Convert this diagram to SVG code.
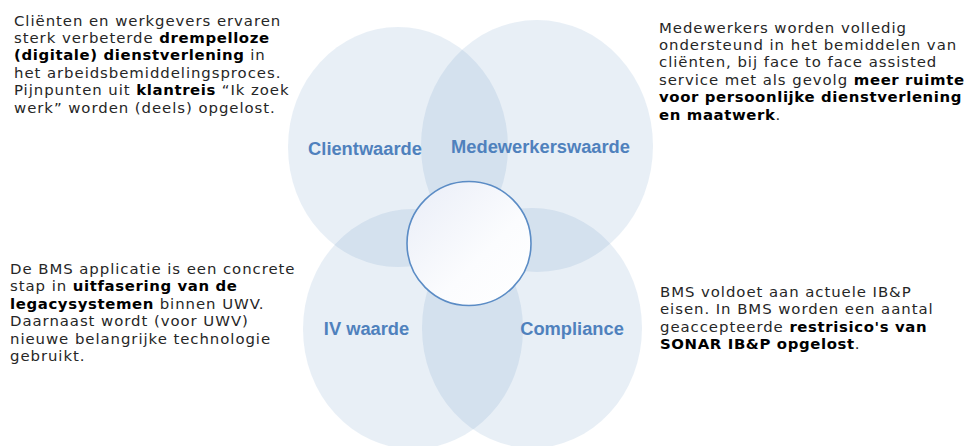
<svg xmlns="http://www.w3.org/2000/svg" width="975" height="446" viewBox="0 0 975 446">
<style>
.petal{fill:#4f81bd;fill-opacity:0.13;stroke:none}
.lbl{font-family:"Liberation Sans",Arial,sans-serif;font-weight:bold;font-size:18.3px;fill:#4f81bd;text-anchor:middle}
.body{font-family:"DejaVu Sans",Verdana,sans-serif;font-size:14.9px;fill:#262626;letter-spacing:0.95px}
.b{font-weight:bold;fill:#000;letter-spacing:0.62px}
</style>
<defs>
<linearGradient id="cg" x1="0" y1="0" x2="1" y2="1">
<stop offset="0" stop-color="#e9edf7"/>
<stop offset="0.6" stop-color="#fbfcfe"/>
<stop offset="1" stop-color="#ffffff"/>
</linearGradient>
</defs>
<rect width="975" height="446" fill="#ffffff"/>
<g id="clientwaarde">
<ellipse class="petal" cx="398" cy="147" rx="110" ry="120"/>
<text class="lbl" x="365" y="155">Clientwaarde</text>
</g>
<g id="medewerkerswaarde">
<ellipse class="petal" cx="537" cy="146" rx="116" ry="126"/>
<text class="lbl" x="540.5" y="153">Medewerkerswaarde</text>
</g>
<g id="iv-waarde">
<ellipse class="petal" cx="413" cy="329" rx="110" ry="120"/>
<text class="lbl" x="366.5" y="335">IV waarde</text>
</g>
<g id="compliance">
<ellipse class="petal" cx="532" cy="328" rx="110" ry="120"/>
<text class="lbl" x="572" y="335">Compliance</text>
</g>
<g id="center">
<circle cx="469" cy="243.5" r="62" fill="url(#cg)" stroke="#5b8cc5" stroke-width="1.6"/>
</g>
<g id="connectors"/>
<g id="text-clientwaarde">
<text class="body" x="14" y="25.5"><tspan x="14" y="25.5">Cliënten en werkgevers ervaren</tspan><tspan x="14" y="42.9">sterk verbeterde <tspan class="b">drempelloze</tspan></tspan><tspan x="14" y="60.3"><tspan class="b">(digitale) dienstverlening</tspan> in</tspan><tspan x="14" y="77.7">het arbeidsbemiddelingsproces.</tspan><tspan x="14" y="95.1">Pijnpunten uit <tspan class="b">klantreis</tspan> “Ik zoek</tspan><tspan x="14" y="112.5">werk” worden (deels) opgelost.</tspan></text>
</g>
<g id="text-medewerkerswaarde">
<text class="body" x="659" y="32.5"><tspan x="659" y="32.5">Medewerkers worden volledig</tspan><tspan x="659" y="49.9">ondersteund in het bemiddelen van</tspan><tspan x="659" y="67.3">cliënten, bij face to face assisted</tspan><tspan x="659" y="84.7">service met als gevolg <tspan class="b">meer ruimte</tspan></tspan><tspan x="659" y="102.1" class="b">voor persoonlijke dienstverlening</tspan><tspan x="659" y="119.5"><tspan class="b">en maatwerk</tspan>.</tspan></text>
</g>
<g id="text-iv-waarde">
<text class="body" x="10" y="274"><tspan x="10" y="274">De BMS applicatie is een concrete</tspan><tspan x="10" y="291.4">stap in <tspan class="b">uitfasering van de</tspan></tspan><tspan x="10" y="308.8"><tspan class="b">legacysystemen</tspan> binnen UWV.</tspan><tspan x="10" y="326.2">Daarnaast wordt (voor UWV)</tspan><tspan x="10" y="343.6">nieuwe belangrijke technologie</tspan><tspan x="10" y="361">gebruikt.</tspan></text>
</g>
<g id="text-compliance">
<text class="body" x="660" y="296.9"><tspan x="660" y="296.9">BMS voldoet aan actuele IB&amp;P</tspan><tspan x="660" y="314.3">eisen. In BMS worden een aantal</tspan><tspan x="660" y="331.7">geaccepteerde <tspan class="b">restrisico's van</tspan></tspan><tspan x="660" y="349.1"><tspan class="b">SONAR IB&amp;P opgelost</tspan>.</tspan></text>
</g>
</svg>
